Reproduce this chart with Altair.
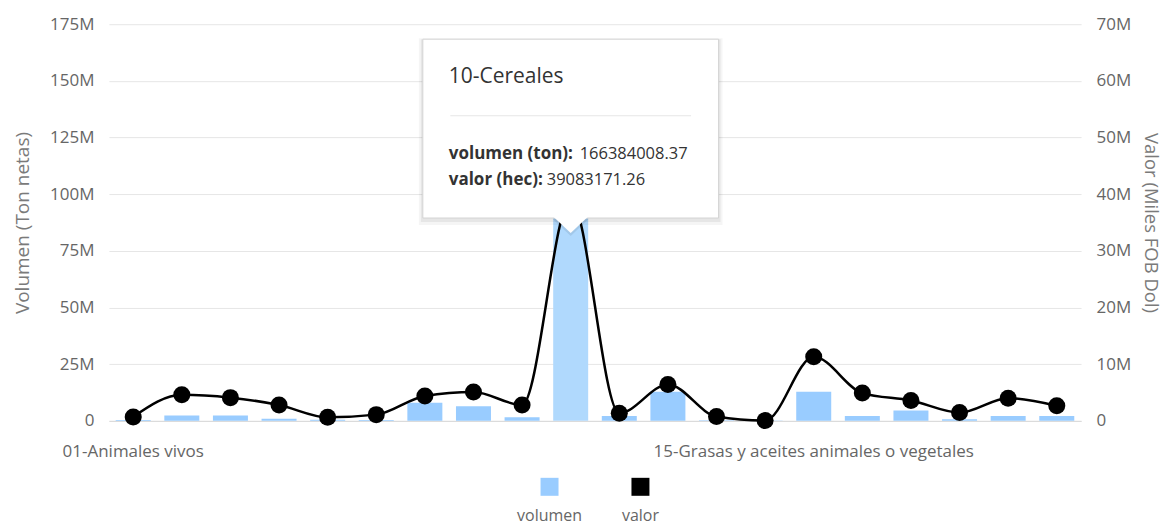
import json
import altair as alt
import pandas as pd

categories = [
    "01-Animales vivos",
    "02-Carne y despojos comestibles",
    "03-Pescados y crustáceos, moluscos y demás invertebrados acuáticos",
    "04-Leche y productos lácteos; huevos de ave; miel natural",
    "05-Los demás productos de origen animal",
    "06-Plantas vivas y productos de la floricultura",
    "07-Hortalizas, plantas, raíces y tubérculos alimenticios",
    "08-Frutas y frutos comestibles",
    "09-Café, té, yerba mate y especias",
    "10-Cereales",
    "11-Productos de la molinería; malta; almidón y fécula",
    "12-Semillas y frutos oleaginosos",
    "13-Gomas, resinas y demás jugos y extractos vegetales",
    "14-Materias trenzables",
    "15-Grasas y aceites animales o vegetales",
    "16-Preparaciones de carne, pescado o crustáceos",
    "17-Azúcares y artículos de confitería",
    "18-Cacao y sus preparaciones",
    "19-Preparaciones a base de cereales",
    "20-Preparaciones de hortalizas, frutas u otros frutos",
]
volumen = [0.35e6, 2.4e6, 2.4e6, 0.95e6, 0.5e6, 0.4e6, 8.0e6, 6.5e6, 1.6e6, 166384008.37,
           2.2e6, 12.9e6, 0.3e6, 0.2e6, 12.8e6, 2.2e6, 4.6e6, 0.7e6, 2.2e6, 2.2e6]
valor = [0.7e6, 4.6e6, 4.1e6, 2.8e6, 0.63e6, 1.1e6, 4.4e6, 5.1e6, 2.8e6, 39083171.26,
         1.36e6, 6.4e6, 0.76e6, 0.05e6, 11.3e6, 4.9e6, 3.6e6, 1.47e6, 4.0e6, 2.65e6]
vol_ticks = [0, 25e6, 50e6, 75e6, 100e6, 125e6, 150e6, 175e6]
val_ticks = [0, 10e6, 20e6, 30e6, 40e6, 50e6, 60e6, 70e6]
series_names = ["volumen", "valor"]
series_colors = ["#99ccff", "#000000"]
shown_labels = ["01-Animales vivos", "15-Grasas y aceites animales o vegetales"]
highlight = "10-Cereales"

df = pd.DataFrame({"categoria": categories, "volumen": volumen, "valor": valor})
tip = df[df.categoria == highlight].copy()
tip["vol_txt"] = tip.volumen.map(lambda v: f"{v:.2f}")
tip["val_txt"] = tip.valor.map(lambda v: f"{v:.2f}")

FONT = "Open Sans"
LABEL = "#666666"
TITLE = "#7a7a7a"

label_expr = "indexof(" + json.dumps(shown_labels) + ", datum.value) >= 0 ? datum.value : ''"
num_expr = "datum.value == 0 ? '0' : datum.label"

x = alt.X(
    "categoria:N", sort=categories,
    scale=alt.Scale(paddingInner=0.28, paddingOuter=0.14),
    axis=alt.Axis(title=None, labelExpr=label_expr, labelAngle=0, labelLimit=600,
                  labelOverlap=False, ticks=False, domain=True, domainColor="#d9d9d9",
                  labelPadding=23, labelFontSize=17, labelColor=LABEL, grid=False),
)

bars = alt.Chart(df).mark_bar().encode(
    x=x,
    y=alt.Y("volumen:Q", scale=alt.Scale(domain=[0, 175e6], nice=False),
            axis=alt.Axis(orient="left", title="Volumen (Ton netas)", values=vol_ticks,
                          format="~s", labelExpr=num_expr, grid=True, gridColor="#e6e6e6",
                          ticks=False, domain=False, labelPadding=15, labelFontSize=17,
                          labelColor=LABEL, titleFontSize=19, titleColor=TITLE,
                          titleFontWeight="normal", titlePadding=17)),
    color=alt.condition(alt.datum.categoria == highlight, alt.value("#b0d9fd"), alt.value("#99ccff")),
)

line = alt.Chart(df).mark_line(color="black", strokeWidth=2.5, interpolate="monotone").encode(
    x=x,
    y=alt.Y("valor:Q", scale=alt.Scale(domain=[0, 70e6], nice=False),
            axis=alt.Axis(orient="right", title="Valor (Miles FOB Dol)", values=val_ticks,
                          format="~s", labelExpr=num_expr, grid=False, ticks=False,
                          domain=False, labelPadding=15, labelFontSize=17, labelColor=LABEL,
                          titleFontSize=18.5, titleColor=TITLE, titleFontWeight="normal",
                          titlePadding=10)),
)
points = alt.Chart(df).mark_circle(color="black", size=290, opacity=1).encode(x=x, y="valor:Q")

# tooltip-like annotation anchored on the highlighted category
tb = alt.Chart(tip)
shadow1 = tb.mark_bar(width=304, color="black", opacity=0.04).encode(x=x, y=alt.value(14), y2=alt.value(201))
shadow2 = tb.mark_bar(width=300, color="black", opacity=0.06).encode(x=x, y=alt.value(15), y2=alt.value(198))
box = tb.mark_bar(width=296, color="white", stroke="#d4d4d4", strokeWidth=1).encode(
    x=x, y=alt.value(15), y2=alt.value(194))
arrow_shadow = tb.mark_point(shape="M-1,-0.5L1,-0.5L0,0.44Z", size=1300, filled=True,
                             color="black", opacity=0.08).encode(x=x, y=alt.value(204))
arrow = tb.mark_point(shape="M-1,-0.5L1,-0.5L0,0.44Z", size=1156, filled=True,
                      color="white", opacity=1).encode(x=x, y=alt.value(201.5))
title_t = tb.mark_text(align="left", baseline="alphabetic", dx=-122, fontSize=21,
                       color="#333333").encode(x=x, y=alt.value(59), text="categoria:N")
sep = tb.mark_bar(width=241, color="#e6e6e6").encode(x=x, y=alt.value(91), y2=alt.value(92))
l1 = tb.mark_text(align="left", baseline="alphabetic", dx=-122, fontSize=17, fontWeight="bold",
                  color="#333333").encode(x=x, y=alt.value(135), text=alt.value("volumen (ton):"))
v1 = tb.mark_text(align="left", baseline="alphabetic", dx=9, fontSize=16.5,
                  color="#333333").encode(x=x, y=alt.value(135), text="vol_txt:N")
l2 = tb.mark_text(align="left", baseline="alphabetic", dx=-122, fontSize=17, fontWeight="bold",
                  color="#333333").encode(x=x, y=alt.value(161), text=alt.value("valor (hec):"))
v2 = tb.mark_text(align="left", baseline="alphabetic", dx=-24, fontSize=16.5,
                  color="#333333").encode(x=x, y=alt.value(161), text="val_txt:N")

main = alt.layer(
    bars, alt.layer(line, points),
    shadow1, shadow2, box, arrow_shadow, arrow, title_t, sep, l1, v1, l2, v2,
).resolve_scale(y="independent").properties(width=973, height=397)

leg_df = pd.DataFrame({"serie": series_names})
lx = alt.X("serie:N", sort=series_names, scale=alt.Scale(type="point", padding=0.5), axis=None)
leg_sq = alt.Chart(leg_df).mark_square(size=324, opacity=1).encode(
    x=lx, y=alt.value(21),
    color=alt.Color("serie:N", scale=alt.Scale(domain=series_names, range=series_colors), legend=None),
)
leg_tx = alt.Chart(leg_df).mark_text(fontSize=16, color=LABEL, baseline="middle").encode(
    x=lx, y=alt.value(50), text="serie:N")
legend = alt.layer(leg_sq, leg_tx).properties(width=182, height=59)

chart = alt.vconcat(main, legend, spacing=45, bounds="flush", center=True).properties(
    padding={"left": 5, "top": 7, "right": 4, "bottom": 0}
).configure(font=FONT).configure_view(strokeWidth=0)

chart.save("out.html", embed_options={"renderer": "svg", "actions": False})
